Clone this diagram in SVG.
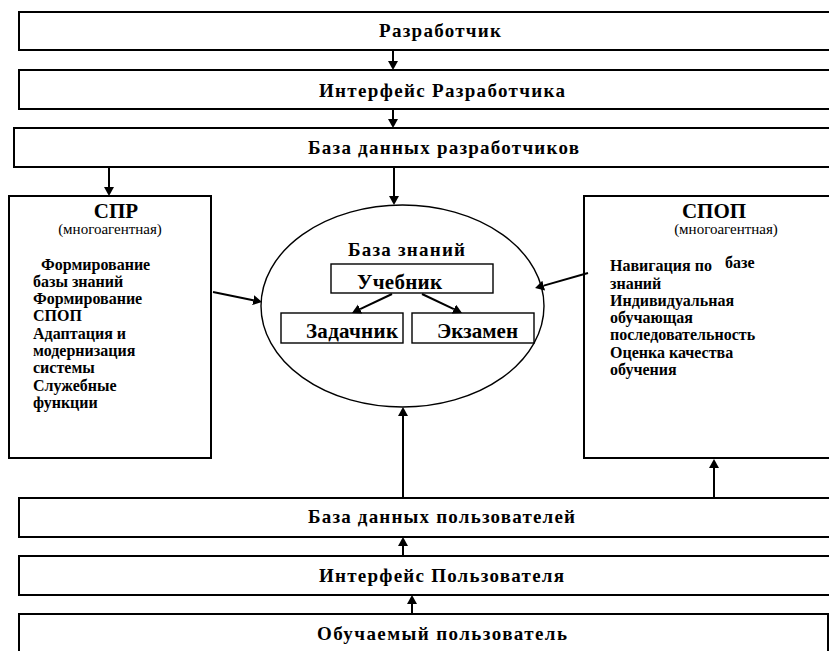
<svg xmlns="http://www.w3.org/2000/svg" width="829" height="651" viewBox="0 0 829 651">
<style>
.box{fill:#fff;stroke:#000;stroke-width:2}
.ibox{fill:#fff;stroke:#000;stroke-width:1.4}
text{font-family:'Liberation Serif','Times New Roman',Tinos,'DejaVu Serif',serif;fill:#000}
.t{font-weight:bold}
.big{font-size:19px}
.ell{font-size:19px}
.lst{font-size:16px}
.ttl{font-size:21px}
.sub{font-size:15px;font-weight:normal}
.c{stroke:#000;stroke-width:2;fill:none;marker-end:url(#ah)}
</style>
<defs>
<marker id="ah" markerUnits="userSpaceOnUse" markerWidth="12" markerHeight="12" refX="0" refY="5" orient="auto">
<path d="M0,0 L9,5 L0,10 Z" fill="#000"/>
</marker>
</defs>
<g id="n-dev"><rect class="box" x="19" y="12" width="830" height="38"/><text class="t big" x="379" y="37" textLength="122" lengthAdjust="spacing">Разработчик</text></g>
<g id="n-devif"><rect class="box" x="19" y="70" width="830" height="39"/><text class="t big" x="319" y="97" textLength="246" lengthAdjust="spacing">Интерфейс Разработчика</text></g>
<g id="n-devdb"><rect class="box" x="14" y="128" width="835" height="39"/><text class="t big" x="308" y="154" textLength="271" lengthAdjust="spacing">База данных разработчиков</text></g>
<g id="n-spr"><rect class="box" x="9" y="196" width="202" height="262"/>
<text class="t ttl" x="116" y="218" text-anchor="middle">СПР</text>
<text class="sub" x="110" y="234" text-anchor="middle">(многоагентная)</text>
<text class="t lst" x="41" y="270">Формирование</text>
<text class="t lst" x="33" y="287">базы знаний</text>
<text class="t lst" x="33" y="304">Формирование</text>
<text class="t lst" x="33" y="321">СПОП</text>
<text class="t lst" x="33" y="339">Адаптация и</text>
<text class="t lst" x="33" y="356">модернизация</text>
<text class="t lst" x="33" y="373">системы</text>
<text class="t lst" x="33" y="391">Служебные</text>
<text class="t lst" x="33" y="408">функции</text>
</g>
<g id="n-spop"><rect class="box" x="584" y="196" width="265" height="262"/>
<text class="t ttl" x="714" y="218" text-anchor="middle">СПОП</text>
<text class="sub" x="726" y="234" text-anchor="middle">(многоагентная)</text>
<text class="t lst" x="610" y="271">Навигация по</text>
<text class="t lst" x="725" y="268">базе</text>
<text class="t lst" x="610" y="289">знаний</text>
<text class="t lst" x="610" y="306">Индивидуальная</text>
<text class="t lst" x="610" y="323">обучающая</text>
<text class="t lst" x="610" y="340">последовательность</text>
<text class="t lst" x="610" y="358">Оценка качества</text>
<text class="t lst" x="610" y="375">обучения</text>
</g>
<g id="n-kb"><ellipse cx="402.5" cy="306" rx="141.5" ry="101" fill="#fff" stroke="#000" stroke-width="1.4"/>
<text class="t ell" x="348" y="256" textLength="117" lengthAdjust="spacing">База знаний</text></g>
<g id="n-ucheb"><rect class="ibox" x="331" y="264" width="162" height="29"/><text class="t ttl" x="357" y="289" textLength="85" lengthAdjust="spacing">Учебник</text></g>
<g id="n-zad"><rect class="ibox" x="281" y="313" width="122" height="30"/><text class="t ttl" x="306" y="338" textLength="92" lengthAdjust="spacing">Задачник</text></g>
<g id="n-ekz"><rect class="ibox" x="412" y="313" width="122" height="30"/><text class="t ttl" x="437" y="338" textLength="81" lengthAdjust="spacing">Экзамен</text></g>
<g id="n-userdb"><rect class="box" x="19" y="498" width="830" height="39"/><text class="t big" x="308" y="523" textLength="267" lengthAdjust="spacing">База данных пользователей</text></g>
<g id="n-userif"><rect class="box" x="19" y="556" width="830" height="39"/><text class="t big" x="319" y="582" textLength="245" lengthAdjust="spacing">Интерфейс Пользователя</text></g>
<g id="n-user"><rect class="box" x="19" y="614" width="809" height="50"/><text class="t big" x="317" y="640" textLength="250" lengthAdjust="spacing">Обучаемый пользователь</text></g>
<g id="connectors">
<line class="c" x1="393" y1="50" x2="393" y2="61"/>
<line class="c" x1="393" y1="109" x2="393" y2="119"/>
<line class="c" x1="109" y1="167" x2="109" y2="187"/>
<line class="c" x1="394" y1="167" x2="394" y2="196"/>
<line class="c" x1="213" y1="292" x2="253.2" y2="300.2"/>
<line class="c" x1="588" y1="273" x2="543.7" y2="285.6"/>
<line class="c" x1="392" y1="294" x2="360.1" y2="309.1"/>
<line class="c" x1="422" y1="294" x2="453.9" y2="309.1"/>
<line class="c" x1="403" y1="498" x2="403" y2="416"/>
<line class="c" x1="714" y1="498" x2="714" y2="468"/>
<line class="c" x1="403" y1="556" x2="403" y2="546"/>
<line class="c" x1="412" y1="614" x2="412" y2="604"/>
</g>
</svg>
